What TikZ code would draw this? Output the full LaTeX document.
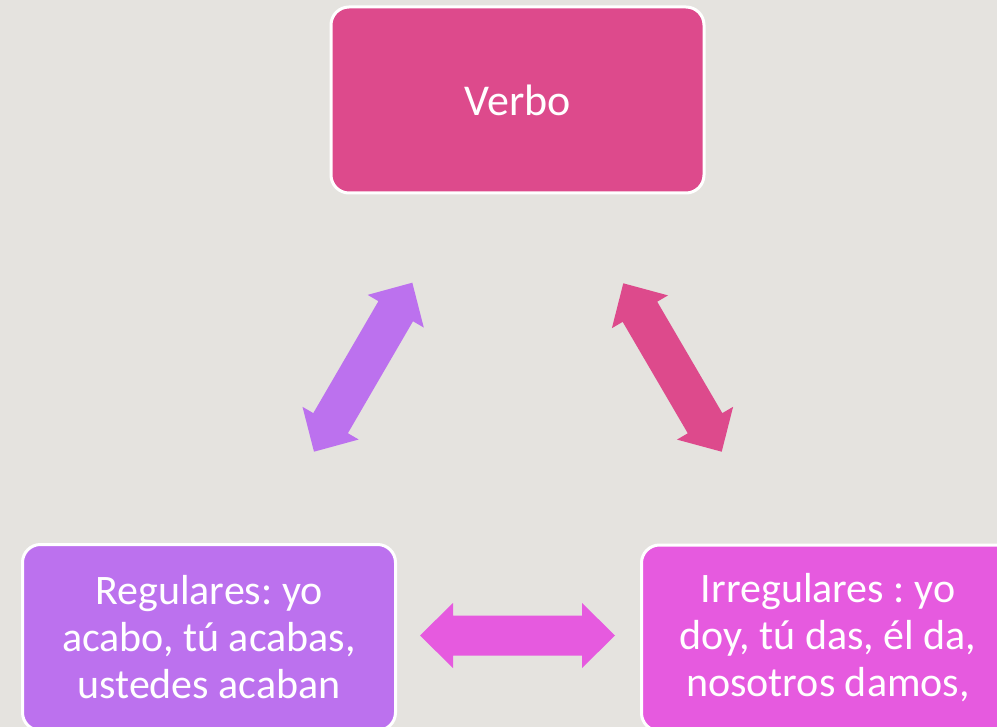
\documentclass[tikz,border=0pt]{standalone}
\usepackage{fontspec}
\setmainfont{Carlito}
\frenchspacing
\usetikzlibrary{calc}
\usetikzlibrary{positioning}
\definecolor{bgcol}{HTML}{E5E3DF}
\definecolor{verbcol}{HTML}{DD4A8C}
\definecolor{regcol}{HTML}{BC71EE}
\definecolor{irrcol}{HTML}{E65ADF}
\tikzset{box/.style={draw=white, line width=3pt, rounded corners=18pt,
minimum width=373pt, minimum height=186pt, text=white, align=center,
font=\fontsize{42}{47}\selectfont}}
% double block arrow between two named points
\newcommand{\dblarrow}[3]{%
\fill[#3] (#1) -- ($(#1)!33pt!(#2)!32.5pt!90:(#2)$) -- ($(#1)!33pt!(#2)!20pt!90:(#2)$)
 -- ($(#2)!33pt!(#1)!20pt!270:(#1)$) -- ($(#2)!33pt!(#1)!32.5pt!270:(#1)$) -- (#2)
 -- ($(#2)!33pt!(#1)!32.5pt!90:(#1)$) -- ($(#2)!33pt!(#1)!20pt!90:(#1)$)
 -- ($(#1)!33pt!(#2)!20pt!270:(#2)$) -- ($(#1)!33pt!(#2)!32.5pt!270:(#2)$) -- cycle;}

\begin{document}
\begin{tikzpicture}[x=1pt, y=-1pt]
				\clip (0,0) rectangle (997,727);
				\fill[bgcol] (0,0) rectangle (997,727);

				\node[box, fill=verbcol, font=\fontsize{44}{53}\selectfont] (verbo) at (517.5,100) {Verbo};
				\node[box, fill=regcol] (reg) at (209,637.5) {Regulares: yo\\acabo, tú acabas,\\ustedes acaban};
				\node[box, fill=irrcol] (irr) at (828,638) {Irregulares : yo\\doy, tú das, él da,\\nosotros damos,};

				\coordinate (regtop) at (412.3,282.7);
				\coordinate (regbot) at (314,451.7);
				\coordinate (irrtop) at (623.3,283.3);
				\coordinate (irrbot) at (721.7,451.7);
				\coordinate (midl) at (420,635.5);
				\coordinate (midr) at (615,635.5);

				\dblarrow{regbot}{regtop}{regcol}
				\dblarrow{irrtop}{irrbot}{verbcol}
				\dblarrow{midl}{midr}{irrcol}
\end{tikzpicture}
\end{document}
